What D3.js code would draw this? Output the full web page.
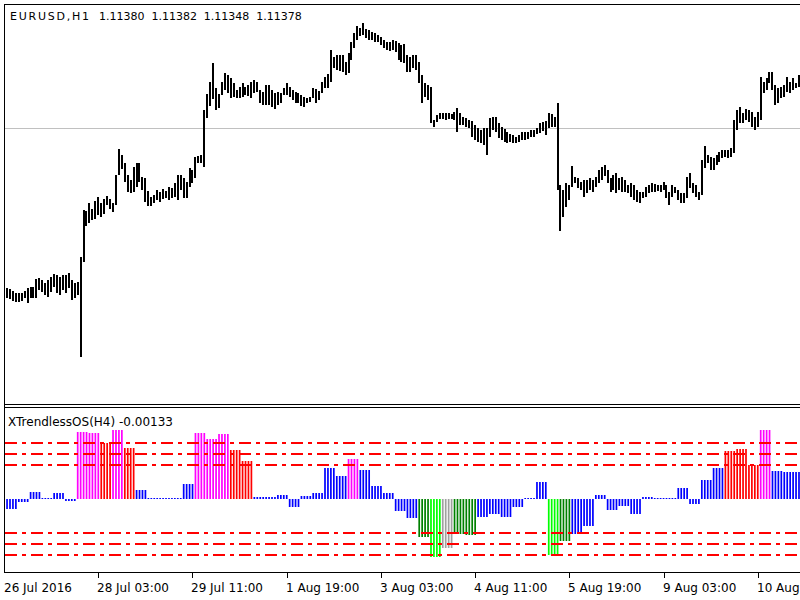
<!DOCTYPE html>
<meta charset="utf-8">
<head>
    <title>EURUSD,H1 XTrendlessOS</title>
    <style>
        body { margin: 0; background: #fff; }
        svg { display: block; }
    </style>
</head>
<body>
<script src="https://d3js.org/d3.v7.min.js"></script>
<svg id="chart" width="800" height="600"></svg>

<script>
    // EURUSD H1 bars, first bar 26 Jul 2016 20:00 (high / low)
    var highs = [
        1.0980,1.0979,1.0977,1.0975,1.0975,1.0975,1.0977,1.0980,1.0981,1.0981,
        1.0989,1.0990,1.0988,1.0985,1.0988,1.0991,1.0994,1.0993,1.0991,1.0993,
        1.0993,1.0995,1.0988,1.0985,1.0986,
        1.1011,1.1058,1.1057,1.1065,1.1059,
        1.1067,1.1071,1.1065,1.1069,1.1072,1.1069,1.1065,
        1.1093,1.1119,1.1113,1.1105,1.1093,1.1088,1.1101,1.1105,1.1105,
        1.1091,1.1090,1.1077,1.1071,1.1073,1.1078,1.1076,1.1079,
        1.1077,1.1081,1.1080,1.1085,1.1093,1.1093,1.1090,1.1086,
        1.1100,1.1098,1.1111,1.1112,1.1113,
        1.1158,1.1174,1.1186,1.1205,
        1.1180,1.1174,1.1186,1.1195,1.1193,1.1190,1.1185,1.1178,1.1181,1.1185,1.1181,1.1183,
        1.1186,1.1188,1.1186,1.1178,1.1176,1.1183,1.1183,1.1178,1.1175,1.1176,
        1.1175,1.1180,1.1185,1.1181,1.1178,1.1176,1.1175,1.1173,1.1171,1.1170,1.1171,
        1.1180,1.1179,1.1177,1.1186,1.1191,1.1194,1.1218,1.1211,1.1213,1.1213,
        1.1213,1.1206,1.1215,1.1226,1.1235,1.1242,1.1240,1.1245,1.1239,1.1238,
        1.1236,1.1235,1.1233,1.1231,1.1228,1.1226,1.1226,1.1228,1.1227,1.1225,1.1223,1.1224,
        1.1213,1.1211,1.1213,1.1213,1.1206,1.1193,1.1185,1.1183,1.1181,
        1.1148,1.1153,1.1155,1.1155,1.1155,1.1155,
        1.1154,1.1156,1.1160,1.1155,1.1151,1.1150,1.1148,1.1147,1.1143,1.1140,1.1138,1.1140,1.1140,
        1.1150,1.1151,1.1151,1.1145,1.1141,1.1139,1.1136,1.1134,1.1133,1.1131,1.1133,
        1.1136,1.1136,1.1136,1.1138,1.1138,1.1140,1.1145,1.1146,1.1147,1.1155,1.1154,1.1151,
        1.1165,1.1083,1.1078,1.1085,1.1083,
        1.1102,1.1091,1.1090,1.1086,1.1088,1.1088,1.1090,1.1088,1.1091,1.1098,1.1101,1.1103,
        1.1098,1.1090,1.1093,1.1095,1.1090,1.1091,1.1088,
        1.1083,1.1085,1.1083,1.1078,1.1076,1.1076,1.1081,1.1083,1.1085,1.1084,1.1083,1.1083,1.1086,
        1.1083,1.1076,1.1083,1.1081,1.1078,1.1075,1.1075,1.1091,1.1095,1.1085,1.1083,1.1076,
        1.1108,1.1122,1.1113,1.1111,1.1110,1.1113,1.1116,1.1118,1.1118,
        1.1118,1.1120,1.1148,1.1158,1.1161,1.1155,1.1159,1.1158,1.1156,1.1151,1.1156,
        1.1191,1.1186,1.1190,1.1196,1.1196,1.1183,1.1180,1.1181,1.1183,1.1191,1.1186,1.1190,1.1185,1.1193
    ];
    var lows = [
        1.0970,1.0969,1.0967,1.0966,1.0966,1.0967,1.0970,1.0965,1.0970,1.0970,
        1.0970,1.0978,1.0976,1.0973,1.0971,1.0976,1.0981,1.0975,1.0973,1.0978,
        1.0975,1.0980,1.0968,1.0970,1.0973,
        1.0911,1.1006,1.1042,1.1045,1.1048,
        1.1049,1.1053,1.1051,1.1054,1.1063,1.1059,1.1056,
        1.1063,1.1093,1.1099,1.1086,1.1076,1.1075,1.1076,1.1081,1.1086,
        1.1078,1.1066,1.1062,1.1062,1.1065,1.1068,1.1066,1.1069,
        1.1070,1.1068,1.1070,1.1071,1.1068,1.1078,1.1070,1.1070,
        1.1081,1.1085,1.1090,1.1105,1.1105,
        1.1101,1.1150,1.1162,1.1169,
        1.1158,1.1160,1.1173,1.1178,1.1175,1.1170,1.1171,1.1170,1.1170,1.1171,1.1173,1.1172,
        1.1170,1.1175,1.1176,1.1165,1.1163,1.1163,1.1163,1.1161,1.1159,1.1163,
        1.1165,1.1173,1.1173,1.1171,1.1168,1.1165,1.1165,1.1162,1.1161,1.1165,1.1166,
        1.1170,1.1165,1.1168,1.1175,1.1180,1.1180,1.1186,1.1200,1.1198,1.1197,
        1.1196,1.1193,1.1195,1.1208,1.1220,1.1228,1.1232,1.1233,1.1230,1.1228,
        1.1228,1.1226,1.1226,1.1223,1.1220,1.1218,1.1217,1.1218,1.1216,1.1208,1.1206,1.1205,
        1.1196,1.1196,1.1200,1.1198,1.1185,1.1165,1.1171,1.1168,1.1145,
        1.1141,1.1146,1.1149,1.1149,1.1148,1.1149,
        1.1149,1.1148,1.1136,1.1143,1.1143,1.1141,1.1140,1.1131,1.1128,1.1126,1.1125,1.1123,1.1113,
        1.1131,1.1138,1.1136,1.1130,1.1128,1.1126,1.1125,1.1126,1.1125,1.1125,1.1126,
        1.1128,1.1128,1.1129,1.1131,1.1131,1.1134,1.1135,1.1137,1.1133,1.1140,1.1141,1.1141,
        1.1078,1.1037,1.1051,1.1061,1.1068,
        1.1081,1.1085,1.1080,1.1078,1.1071,1.1075,1.1078,1.1076,1.1081,1.1085,1.1088,1.1092,
        1.1085,1.1076,1.1078,1.1075,1.1078,1.1076,1.1076,
        1.1075,1.1071,1.1068,1.1066,1.1065,1.1070,1.1071,1.1075,1.1076,1.1076,1.1077,1.1076,1.1078,
        1.1070,1.1063,1.1071,1.1075,1.1068,1.1065,1.1065,1.1070,1.1080,1.1075,1.1071,1.1068,
        1.1073,1.1100,1.1105,1.1098,1.1098,1.1103,1.1106,1.1110,1.1111,
        1.1110,1.1111,1.1115,1.1138,1.1145,1.1145,1.1148,1.1146,1.1141,1.1138,1.1141,
        1.1148,1.1175,1.1178,1.1185,1.1178,1.1163,1.1165,1.1170,1.1171,1.1176,1.1175,1.1178,1.1180,1.1181
    ];

    // XTrendlessOS computed on H4: one value per 4 H1 bars
    var osc = [
        -0.0009, -0.0003, 0.00065, 0.0001, 0.0005, -0.0002, 0.0060, 0.0059, 0.0050, 0.0062,
        0.0046, 0.0008, 0.0001, 0.0001, 0.0001, 0.0013, 0.0059, 0.0054, 0.0058, 0.0044,
        0.0034, 0.0002, 0.0002, 0.0004, -0.00075, 0.0003, 0.0005, 0.0028, 0.0021, 0.0036,
        0.0026, 0.0012, 0.0005, -0.0011, -0.0017, -0.0034, -0.0052, -0.0044, -0.0031, -0.0032,
        -0.0016, -0.0013, -0.0016, -0.00075, 0.00005, 0.0015, -0.0050, -0.0038, -0.0031, -0.0024,
        0.0004, -0.0010, -0.0006, -0.0013, 0.0002, 0.00005, 0.00005, 0.0010, -0.00045, 0.0017,
        0.0028, 0.0043, 0.0045, 0.0030, 0.0062, 0.0025, 0.0024, 0.0024
    ];
    // histogram state of each H4 value
    var oscState = (
        "nnnnnnUURU" + "RnnnnnUUUR" + "RnnnnnnnnU" + "nnnnnwDXww" +
        "nnnnnnDwnn" + "nnnnnnnnnn" + "nRRRUnnn").split("");

    var levels = [0.005, 0.004, 0.003, -0.003, -0.004, -0.005];
    var bidLine = 1.1140;

    var tickIdx = [0, 31, 63, 95, 127, 159, 191, 223, 255];
    var tickLabels = ["26 Jul 2016", "28 Jul 03:00", "29 Jul 11:00", "1 Aug 19:00", "3 Aug 03:00",
        "4 Aug 11:00", "5 Aug 19:00", "9 Aug 03:00", "10 Aug 11:00"];

    var symbolLabel = "EURUSD,H1";
    var quotes = ["1.11380", "1.11382", "1.11348", "1.11378"];
    var oscLabel = "XTrendlessOS(H4) -0.00133";

    var stateColor = {
        n: "#0000ff",   // neutral
        U: "#ff00ff",   // above levels
        R: "#ff0000",   // above levels, falling
        D: "#00ff00",   // below levels
        w: "#008000",   // below levels, rising
        X: "#a0a0a0"
    };

    var svg = d3.select("#chart"),
        width = 800,
        font = "'DejaVu Sans', Verdana, sans-serif";

    svg.append("rect").attr("width", width).attr("height", 600).attr("fill", "#fff");

    var n = Math.min(highs.length, lows.length);
    var x = d3.scaleLinear().domain([0, n - 1]).range([7, 7 + (n - 1) * 2.944]);
    var yPrice = d3.scaleLinear().domain([1.0864, 1.1268]).range([404, 0]);
    var yOsc = d3.scaleLinear().domain([-0.0065, 0.0081]).range([571.6, 408.5]);

    // ---- price window
    svg.append("line")
        .attr("x1", 5).attr("x2", width)
        .attr("y1", Math.round(yPrice(bidLine)) + 0.5).attr("y2", Math.round(yPrice(bidLine)) + 0.5)
        .attr("stroke", "#c0c0c0").attr("stroke-width", 1);

    svg.append("g").selectAll("rect")
        .data(d3.range(n))
        .join("rect")
        .attr("x", function (i) { return Math.round(x(i)) - 1; })
        .attr("y", function (i) { return Math.round(yPrice(highs[i])); })
        .attr("width", 2)
        .attr("height", function (i) { return Math.max(1, Math.round(yPrice(lows[i]) - yPrice(highs[i]))); })
        .attr("fill", "#000")
        .attr("shape-rendering", "crispEdges");

    var head = svg.append("text")
        .attr("x", 10).attr("y", 20)
        .attr("font-family", font).attr("font-size", 11).attr("fill", "#000");
    head.append("tspan").attr("textLength", 79).attr("lengthAdjust", "spacing").text(symbolLabel);
    quotes.forEach(function (q, k) {
        head.append("tspan").attr("x", 99 + k * 52.4).text(q);
    });

    // ---- oscillator window
    var zero = yOsc(0);
    svg.append("g").selectAll("rect")
        .data(d3.range(n))
        .join("rect")
        .attr("x", function (i) { return x(i) - 0.8; })
        .attr("y", function (i) { return Math.round(Math.min(zero, yOsc(osc[Math.floor(i / 4)]))); })
        .attr("width", 1.7)
        .attr("height", function (i) {
            return Math.max(1, Math.round(Math.abs(yOsc(osc[Math.floor(i / 4)]) - zero)));
        })
        .attr("fill", function (i) { return stateColor[oscState[Math.floor(i / 4)]]; });

    svg.append("g").selectAll("line")
        .data(levels)
        .join("line")
        .attr("x1", 5).attr("x2", width)
        .attr("y1", function (d) { return Math.round(yOsc(d)); })
        .attr("y2", function (d) { return Math.round(yOsc(d)); })
        .attr("stroke", "#ff0000")
        .attr("stroke-width", 2)
        .attr("stroke-dasharray", "12,5,4,5")
        .attr("shape-rendering", "crispEdges");

    svg.append("text")
        .attr("x", 8).attr("y", 426)
        .attr("font-family", font).attr("font-size", 12).attr("fill", "#000")
        .text(oscLabel);

    // ---- frames
    var frame = svg.append("g").attr("stroke", "#000").attr("stroke-width", 1).attr("shape-rendering", "crispEdges");
    frame.append("line").attr("x1", 4.5).attr("x2", 4.5).attr("y1", 4).attr("y2", 572);
    frame.append("line").attr("x1", 4).attr("x2", width).attr("y1", 4.5).attr("y2", 4.5);
    frame.append("line").attr("x1", 4).attr("x2", width).attr("y1", 404.5).attr("y2", 404.5);
    frame.append("line").attr("x1", 4).attr("x2", width).attr("y1", 407.5).attr("y2", 407.5);
    frame.append("line").attr("x1", 4).attr("x2", width).attr("y1", 572.5).attr("y2", 572.5);

    // ---- time axis
    var axis = svg.append("g");
    axis.selectAll("line")
        .data(tickIdx.slice(1))
        .join("line")
        .attr("x1", function (d) { return Math.round(x(d)) + 0.5; })
        .attr("x2", function (d) { return Math.round(x(d)) + 0.5; })
        .attr("y1", 572).attr("y2", 578)
        .attr("stroke", "#000").attr("shape-rendering", "crispEdges");
    axis.selectAll("text")
        .data(tickIdx)
        .join("text")
        .attr("x", function (d, k) { return k === 0 ? 4 : Math.round(x(d)) - 1; })
        .attr("y", 592)
        .attr("font-family", font).attr("font-size", 12).attr("fill", "#000")
        .text(function (d, k) { return tickLabels[k]; });
</script>
</body>
